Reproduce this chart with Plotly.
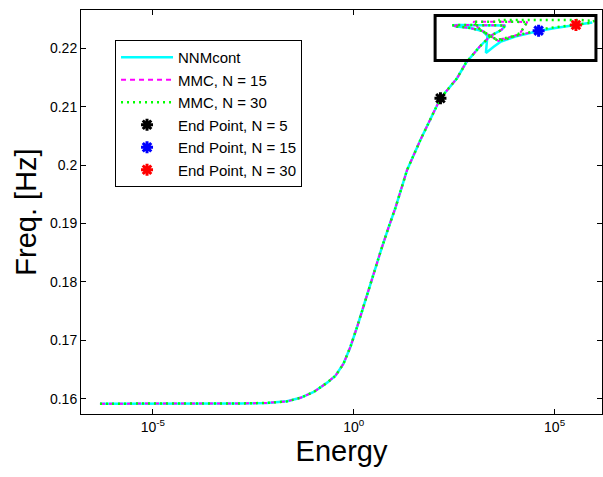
import plotly.graph_objects as go

# ---- data ----
backbone_energy = [4.81e-7, 8.77e-6, 1.54e-4, 1.52e-3, 7.02e-3, 2.20e-2, 4.72e-2, 0.101, 0.218,
                   0.351, 0.555, 0.828, 1.24, 1.95, 3.09, 4.89, 7.29, 10.9, 21.3, 45.6, 144, 373, 611,
                   897, 1340, 2510, 4720, 5940]
backbone_freq = [0.15915, 0.15915, 0.15916, 0.15918, 0.15928, 0.15955, 0.16015, 0.16115, 0.16275,
                 0.16393, 0.16599, 0.16889, 0.17249, 0.17693, 0.18138, 0.18566, 0.18925, 0.19267,
                 0.19917, 0.2043, 0.21143, 0.21487, 0.21743, 0.21885, 0.22022, 0.2221, 0.22313, 0.2239]

tongue_energy = [1420, 451, 285, 359, 800, 1590]
tongue_freq = [0.22399, 0.22399, 0.22394, 0.22373, 0.22347, 0.22296]

nnm_tail_energy = [2120, 2000, 1950, 2990, 4460, 10500, 39400, 104000, 347000, 867000]
nnm_tail_freq = [0.2221, 0.22056, 0.2192, 0.22022, 0.22108, 0.22202, 0.22296, 0.22347, 0.22399, 0.22441]

mmc15_tail_energy = [2510, 3980, 7910, 14000, 18700, 20900, 4460, 951, 1260, 2240, 3760, 10500, 39400]
mmc15_tail_freq = [0.2221, 0.22125, 0.22176, 0.22262, 0.22399, 0.2245, 0.22455, 0.22455, 0.22347,
                   0.22228, 0.22142, 0.2221, 0.22301]

mmc30_extra_energy = [69700, 155000, 347000, 773000, 973000, 437000, 44100, 3980]
mmc30_extra_freq = [0.22347, 0.22373, 0.22399, 0.22433, 0.22467, 0.22484, 0.22484, 0.22484]

end_n5 = (144, 0.21143)
end_n15 = (40000, 0.22301)
end_n30 = (340000, 0.22399)

box_energy = (106, 1.07e6)
box_freq = (0.21791, 0.22561)

y_ticks = [0.16, 0.17, 0.18, 0.19, 0.20, 0.21, 0.22]
y_tick_text = ["0.16", "0.17", "0.18", "0.19", "0.2", "0.21", "0.22"]
x_ticks = [1e-5, 1, 1e5]
x_tick_text = ["10<sup>-5</sup>", "10<sup>0</sup>", "10<sup>5</sup>"]

nnm_e = backbone_energy + tongue_energy + nnm_tail_energy
nnm_f = backbone_freq + tongue_freq + nnm_tail_freq
m15_e = backbone_energy + tongue_energy + mmc15_tail_energy
m15_f = backbone_freq + tongue_freq + mmc15_tail_freq
m30_e = m15_e + mmc30_extra_energy
m30_f = m15_f + mmc30_extra_freq

FONT = "Liberation Sans, Arial, sans-serif"

fig = go.Figure()
fig.add_trace(go.Scatter(x=nnm_e, y=nnm_f, mode="lines", name="NNMcont",
                         line=dict(color="#00FFFF", width=2.5)))
fig.add_trace(go.Scatter(x=m15_e, y=m15_f, mode="lines", name="MMC, N = 15",
                         line=dict(color="#FF00FF", width=2, dash="5px,4px")))
fig.add_trace(go.Scatter(x=m30_e, y=m30_f, mode="lines", name="MMC, N = 30",
                         line=dict(color="#00FF00", width=2.5, dash="2px,4px")))
for pt, col, nm in [(end_n5, "black", "End Point, N = 5"),
                    (end_n15, "blue", "End Point, N = 15"),
                    (end_n30, "red", "End Point, N = 30")]:
    fig.add_trace(go.Scatter(x=[pt[0]], y=[pt[1]], mode="markers", name=nm,
                             marker=dict(symbol="asterisk-open", size=10, color=col,
                                         line=dict(color=col, width=3))))

fig.add_shape(type="rect", xref="x", yref="y",
              x0=box_energy[0], x1=box_energy[1], y0=box_freq[0], y1=box_freq[1],
              line=dict(color="black", width=3))

fig.update_layout(
    width=603, height=477,
    margin=dict(l=81, r=1, t=10, b=63),
    paper_bgcolor="white", plot_bgcolor="white",
    font=dict(family=FONT, color="black", size=14),
    showlegend=True,
    legend=dict(x=0.0653, y=0.9257, xanchor="left", yanchor="top",
                bgcolor="white", bordercolor="black", borderwidth=1,
                itemwidth=52,
                font=dict(size=15, family=FONT)),
)
fig.update_xaxes(type="log", range=[-6.79, 6.18], tickvals=x_ticks, ticktext=x_tick_text,
                 ticks="inside", ticklen=5, tickcolor="black", showline=True, linecolor="black",
                 linewidth=1, mirror="allticks", showgrid=False, zeroline=False,
                 tickfont=dict(size=14, family=FONT),
                 title=dict(text="Energy", font=dict(size=29, family=FONT), standoff=6))
fig.update_yaxes(range=[0.15738, 0.22655], tickvals=y_ticks, ticktext=y_tick_text,
                 ticks="inside", ticklen=5, tickcolor="black", showline=True, linecolor="black",
                 linewidth=1, mirror="allticks", showgrid=False, zeroline=False,
                 tickfont=dict(size=14, family=FONT),
                 title=dict(text="Freq. [Hz]", font=dict(size=29, family=FONT), standoff=4))

fig.write_html("out.html")
